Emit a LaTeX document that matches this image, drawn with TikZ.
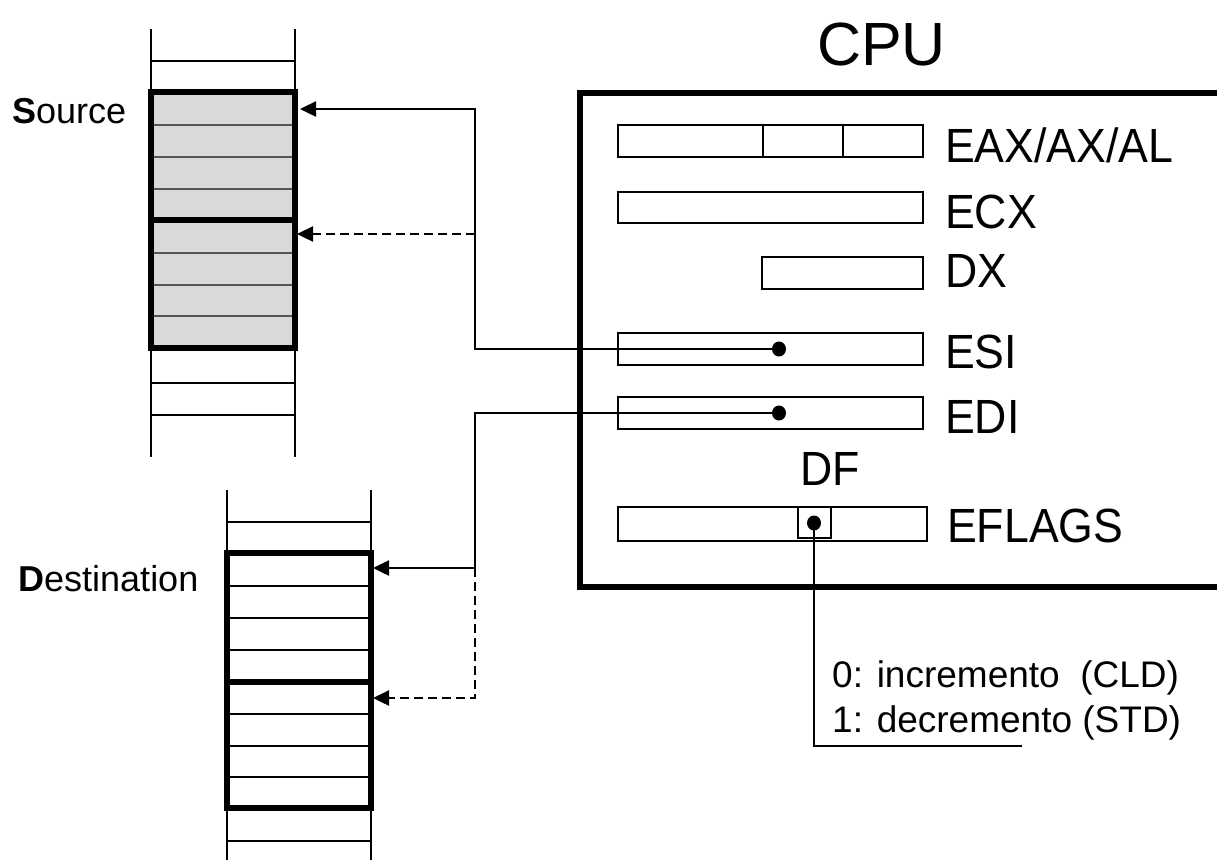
\documentclass[tikz,border=0pt]{standalone}
\usepackage{fontspec}
\setmainfont{Liberation Sans}
\usetikzlibrary{arrows.meta,shapes.geometric}
\definecolor{srcfill}{HTML}{D9D9D9}
\definecolor{srcline}{HTML}{555555}
\begin{document}
\begin{tikzpicture}[x=1pt,y=-1pt,
  thinln/.style={line width=2.4pt},
  thickblk/.style={draw,line width=5.5pt,inner sep=0pt,outer sep=0pt,minimum width=144pt,minimum height=128pt},
  reg/.style={draw,line width=2.2pt,inner sep=0pt,outer sep=0pt,minimum height=32pt},
  dot/.style={ellipse,fill=black,inner sep=0pt,minimum width=14pt,minimum height=15pt},
  conn/.style={line width=2.4pt},
  tip/.style={-{Triangle[length=16pt,width=15pt]}},
  dashpat/.style={dash pattern=on 9pt off 5pt},
  reglabel/.style={anchor=base west,inner sep=0pt,xscale=0.93,font=\fontsize{48}{52}\selectfont},
  sidelabel/.style={anchor=base west,inner sep=0pt,font=\fontsize{36}{40}\selectfont},
  note/.style={anchor=base west,inner sep=0pt,font=\fontsize{37}{42}\selectfont}
]
\useasboundingbox (0,0) rectangle (1217,863);

% ---------- Source stack ----------
\fill[srcfill] (151,92) rectangle (295,348);
\foreach \yy in {125,157,189,253,285,316}
  \draw[thinln,srcline] (151,\yy) -- (295,\yy);
\draw[thinln] (151,29) -- (151,457);
\draw[thinln] (295,29) -- (295,457);
\foreach \yy in {61,383,415}
  \draw[thinln] (151,\yy) -- (295,\yy);
\node[thickblk] (srcA) at (223,156) {};
\node[thickblk] (srcB) at (223,284) {};
\node[sidelabel] (srclbl) at (12,123) {\textbf{S}ource};

% ---------- Destination stack ----------
\foreach \yy in {586,618,650,714,746,777}
  \draw[thinln] (227,\yy) -- (371,\yy);
\draw[thinln] (227,490) -- (227,860);
\draw[thinln] (371,490) -- (371,860);
\foreach \yy in {522,841}
  \draw[thinln] (227,\yy) -- (371,\yy);
\node[thickblk,minimum height=129pt] (dstA) at (299,617.5) {};
\node[thickblk,minimum height=126pt] (dstB) at (299,745) {};
\node[sidelabel] (dstlbl) at (18,591) {\textbf{D}estination};

% ---------- CPU ----------
\node[anchor=base west,inner sep=0pt,font=\fontsize{61}{66}\selectfont] (cpulbl) at (817,65) {CPU};
\draw[line width=5.5pt,line join=miter] (1222,93) -- (580,93) -- (580,587) -- (1222,587);

\node[reg,minimum width=305pt] (eax) at (770.5,141) {};
\draw[line width=2.2pt] (763,125) -- (763,157);
\draw[line width=2.2pt] (843,125) -- (843,157);
\node[reg,minimum width=305pt,minimum height=31pt] (ecx) at (770.5,207.5) {};
\node[reg,minimum width=161pt] (dx) at (842.5,273) {};
\node[reg,minimum width=305pt] (esi) at (770.5,349) {};
\node[reg,minimum width=305pt] (edi) at (770.5,413) {};
\node[reg,minimum width=309pt,minimum height=34pt] (eflags) at (772.5,524) {};
\node[draw,line width=1.8pt,inner sep=0pt,minimum width=33pt,minimum height=31pt] (dfbox) at (814.5,522.5) {};

\node[reglabel] (eaxl) at (945,162) {EAX/AX/AL};
\node[reglabel] (ecxl) at (945,228) {ECX};
\node[reglabel] (dxl) at (945,287) {DX};
\node[reglabel] (esil) at (945,368) {ESI};
\node[reglabel] (edil) at (945,433) {EDI};
\node[reglabel] (dfl) at (800,485) {DF};
\node[reglabel] (eflagsl) at (947,542) {EFLAGS};

% ---------- pointers ----------
\node[dot] (esidot) at (779,349) {};
\node[dot] (edidot) at (779,413) {};
\node[dot] (dfdot) at (814,523) {};

\coordinate (sbend) at (475,349);
\coordinate (stop) at (475,109);
\coordinate (smid) at (475,234);
\draw[conn,tip,shorten >=5pt] (esidot.center) -- (sbend) -- (stop) -- (srcA.east |- stop);
\draw[conn,dashpat,tip,shorten >=2pt] (smid) -- (srcB.east |- smid);

\coordinate (dbend) at (475,413);
\coordinate (dtop) at (475,568);
\coordinate (dlow) at (475,698);
\draw[conn,tip,shorten >=2pt] (edidot.center) -- (dbend) -- (dtop) -- (dstA.east |- dtop);
\draw[conn,dashpat,tip,shorten >=2pt] (dtop) -- (dlow) -- (dstB.east |- dlow);

\coordinate (dfcorner) at (814,746);
\coordinate (dfend) at (1022,746);
\draw[conn] (dfdot.center) -- (dfcorner) -- (dfend);

\node[note] (n0) at (832,687) {0: incremento\ \ (CLD)};
\node[note] (n1) at (832,732) {1: decremento (STD)};
\end{tikzpicture}
\end{document}
